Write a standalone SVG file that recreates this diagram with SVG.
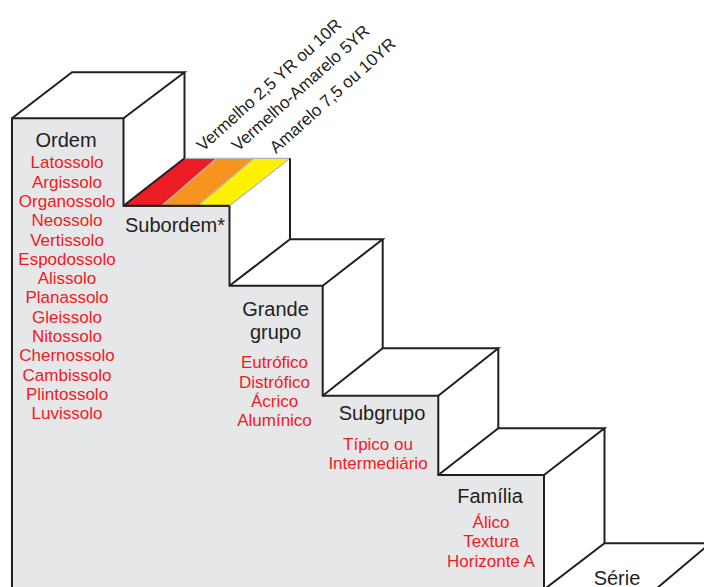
<svg xmlns="http://www.w3.org/2000/svg" width="704" height="587" viewBox="0 0 704 587">
  <style>
    .ln { stroke: #231f20; stroke-width: 2; fill: none; stroke-linejoin: miter; }
    .face { stroke: #231f20; stroke-width: 2; fill: #e6e7e8; }
    .lg { stroke: #b5b5b5; stroke-width: 1.2; fill: none; }
    .t { font-family: "Liberation Sans", Arial, sans-serif; fill: #231f20; font-size: 20px; text-anchor: middle; }
    .r { font-family: "Liberation Sans", Arial, sans-serif; fill: #ed1c24; font-size: 17px; text-anchor: middle; }
    .d { font-family: "Liberation Sans", Arial, sans-serif; fill: #231f20; font-size: 17px; }
  </style>
  <rect width="704" height="587" fill="#ffffff"/>
  <g id="front">
    <polygon class="face" points="12,590 12,118.3 123.5,118.3 123.5,205.7 229.5,205.7 229.5,285.7 322.7,285.7 322.7,395.7 438.3,395.7 438.3,475 544,475 544,590"/>
  </g>
  <g id="stripes">
    <polygon points="123.5,205.7 184.5,158.3 216.7,158.3 161.7,205.7" fill="#ed1c24"/>
    <polygon points="161.7,205.7 216.7,158.3 254,158.3 197.7,205.7" fill="#f7941d"/>
    <polygon points="197.7,205.7 254,158.3 290,158.3 229.5,205.7" fill="#fff200"/>
    <line class="lg" x1="216.7" y1="158.3" x2="161.7" y2="205.7"/>
    <line class="lg" x1="254" y1="158.3" x2="197.7" y2="205.7"/>
    <line class="lg" x1="184.5" y1="158.3" x2="290" y2="158.3"/>
    <line class="lg" x1="290" y1="158.3" x2="229.5" y2="205.7"/>
  </g>
  <g id="connectors">
    <path class="ln" d="M12,118.3 L72,72.3 L184.5,72.3 L123.5,118.3 M184.5,72.3 L184.5,158.3"/>
    <path class="ln" d="M123.5,205.7 L184.5,158.3 M290,158.3 L290,239.3 M123.5,205.7 L229.5,205.7"/>
    <path class="ln" d="M229.5,285.7 L290,239.3 L382.7,239.3 L322.7,285.7 M382.7,239.3 L382.7,348.3"/>
    <path class="ln" d="M322.7,395.7 L382.7,348.3 L498.3,348.3 L438.3,395.7 M498.3,348.3 L498.3,428.3"/>
    <path class="ln" d="M438.3,475 L498.3,428.3 L604.5,428.3 L544,475 M604.5,428.3 L604.5,543.3"/>
    <path class="ln" d="M544,589.5 L604.5,543.3 L706,543.3 M707,546 L656,589"/>
  </g>
  <g id="ordem">
    <text class="t" x="66" y="146.5">Ordem</text>
    <text class="r" x="67" y="168.3">Latossolo</text>
    <text class="r" x="67" y="187.6">Argissolo</text>
    <text class="r" x="67" y="206.9">Organossolo</text>
    <text class="r" x="67" y="226.2">Neossolo</text>
    <text class="r" x="67" y="245.5">Vertissolo</text>
    <text class="r" x="67" y="264.8">Espodossolo</text>
    <text class="r" x="67" y="284.1">Alissolo</text>
    <text class="r" x="67" y="303.4">Planassolo</text>
    <text class="r" x="67" y="322.7">Gleissolo</text>
    <text class="r" x="67" y="342">Nitossolo</text>
    <text class="r" x="67" y="361.3">Chernossolo</text>
    <text class="r" x="67" y="380.6">Cambissolo</text>
    <text class="r" x="67" y="399.9">Plintossolo</text>
    <text class="r" x="67" y="419.2">Luvissolo</text>
  </g>
  <g id="subordem">
    <text class="t" x="175" y="232.3">Subordem*</text>
    <text class="d" transform="translate(203,152) rotate(-42)">Vermelho 2,5 YR ou 10R</text>
    <text class="d" transform="translate(238,152) rotate(-42)">Vermelho-Amarelo 5YR</text>
    <text class="d" transform="translate(276,154) rotate(-42)">Amarelo 7,5 ou 10YR</text>
  </g>
  <g id="grande-grupo">
    <text class="t" x="275.5" y="316">Grande</text>
    <text class="t" x="275.5" y="339">grupo</text>
    <text class="r" x="274.5" y="368.3">Eutrófico</text>
    <text class="r" x="274.5" y="387.5">Distrófico</text>
    <text class="r" x="274.5" y="406.7">Ácrico</text>
    <text class="r" x="274.5" y="426">Alumínico</text>
  </g>
  <g id="subgrupo">
    <text class="t" x="382" y="420">Subgrupo</text>
    <text class="r" x="378" y="450">Típico ou</text>
    <text class="r" x="378" y="469">Intermediário</text>
  </g>
  <g id="familia">
    <text class="t" x="490" y="502.7">Família</text>
    <text class="r" x="491" y="528.3">Álico</text>
    <text class="r" x="491" y="547">Textura</text>
    <text class="r" x="491" y="566.5">Horizonte A</text>
  </g>
  <g id="serie">
    <text class="t" x="617" y="584.5">Série</text>
  </g>
</svg>
